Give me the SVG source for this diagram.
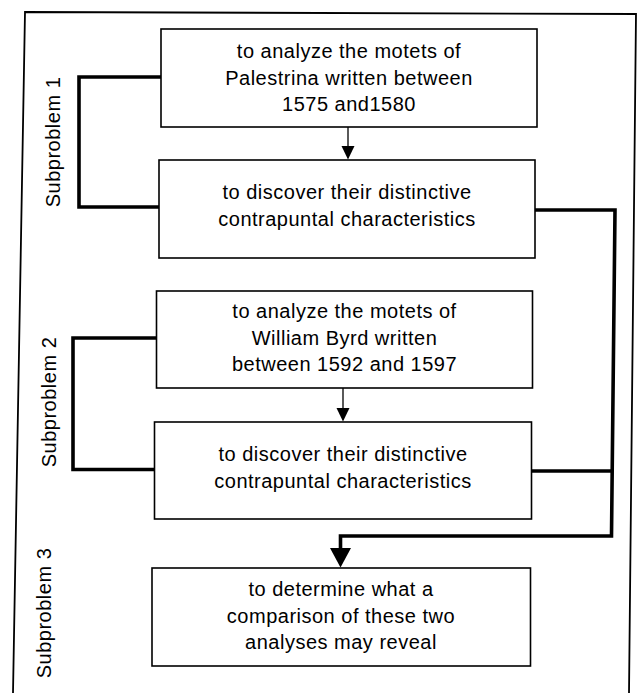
<svg xmlns="http://www.w3.org/2000/svg" width="642" height="693" viewBox="0 0 642 693">
<style>
.frame{fill:none;stroke:#000;stroke-width:1.8}
.box{fill:#fff;stroke:#000;stroke-width:1.6}
.t{font-family:"Liberation Sans",Arial,Helvetica,sans-serif;font-size:20px;letter-spacing:0.5px;fill:#000;text-anchor:middle}
.thin{fill:none;stroke:#000;stroke-width:1.3}
.thick{fill:none;stroke:#000;stroke-width:3.6;stroke-linejoin:miter}
.head{fill:#000;stroke:none}
</style>
<rect width="642" height="693" fill="#fff"/>
<path class="frame" d="M13,693 L25,12 L636,14 L629,693"/>
<g id="labels">
<text class="t" transform="translate(60,142) rotate(-90)">Subproblem 1</text>
<text class="t" transform="translate(56,402) rotate(-90)">Subproblem 2</text>
<text class="t" transform="translate(51,613) rotate(-90)">Subproblem 3</text>
</g>
<g id="connectors">
<path class="thick" d="M161,77 H79 V207 H159"/>
<path class="thick" d="M156.5,338 H73 V469.5 H155"/>
<path class="thick" d="M535,210 H615 L611.5,536 H340.5 V550"/>
<path class="thick" d="M531.7,471 H612"/>
<path class="thin" d="M348,127 V148"/>
<polygon class="head" points="341.5,146 354.5,146 348,159.5"/>
<path class="thin" d="M343,388 V410"/>
<polygon class="head" points="336.5,408 349.5,408 343,421.5"/>
<polygon class="head" points="330,548 351,548 340.5,567.5"/>
</g>
<g id="n1">
<rect class="box" x="161" y="29" width="376" height="98"/>
<text class="t" x="349" y="58">to analyze the motets of</text>
<text class="t" x="349" y="84.5">Palestrina written between</text>
<text class="t" x="349" y="111">1575 and1580</text>
</g>
<g id="n2">
<rect class="box" x="159" y="160" width="376" height="98"/>
<text class="t" x="347" y="199">to discover their distinctive</text>
<text class="t" x="347" y="226">contrapuntal characteristics</text>
</g>
<g id="n3">
<rect class="box" x="156.5" y="291" width="376" height="97"/>
<text class="t" x="344.5" y="318">to analyze the motets of</text>
<text class="t" x="344.5" y="345">William Byrd written</text>
<text class="t" x="344.5" y="371">between 1592 and 1597</text>
</g>
<g id="n4">
<rect class="box" x="154.5" y="422" width="377" height="97"/>
<text class="t" x="343" y="461">to discover their distinctive</text>
<text class="t" x="343" y="488">contrapuntal characteristics</text>
</g>
<g id="n5">
<rect class="box" x="152" y="568" width="378.5" height="98"/>
<text class="t" x="341" y="596">to determine what a</text>
<text class="t" x="341" y="623">comparison of these two</text>
<text class="t" x="341" y="649">analyses may reveal</text>
</g>
</svg>
